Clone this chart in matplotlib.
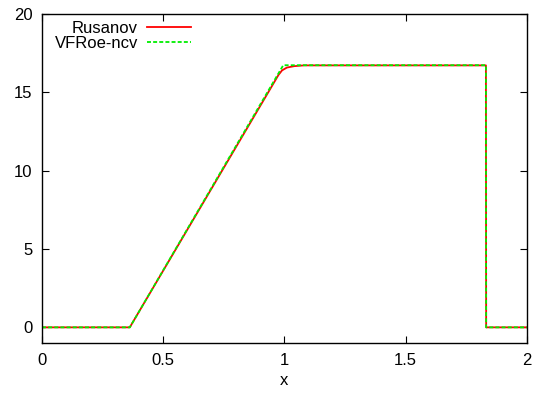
import numpy as np
import matplotlib
matplotlib.use("Agg")
import matplotlib.pyplot as plt

plt.rcParams['font.family'] = ['Liberation Sans', 'DejaVu Sans']
plt.rcParams['font.size'] = 12

# Values
rusanov_x = [0.0, 0.362, 0.975, 0.99, 1.01, 1.04, 1.08, 1.831, 1.832, 2.0]
rusanov_y = [0.0, 0.0, 16.1, 16.4, 16.58, 16.67, 16.72, 16.72, 0.0, 0.0]

vfroe_x = [0.0, 0.362, 0.995, 1.831, 1.832, 2.0]
vfroe_y = [0.0, 0.0, 16.73, 16.73, 0.0, 0.0]

x_ticks = [0, 0.5, 1, 1.5, 2]
x_tick_labels = ['0', '0.5', '1', '1.5', '2']
y_ticks = [0, 5, 10, 15, 20]

fig = plt.figure(figsize=(5.36, 3.95), dpi=100)
ax = fig.add_axes([0.0784, 0.1316, 0.9046, 0.833])

ax.plot(rusanov_x, rusanov_y, color='#ff0000', lw=1.3, label='Rusanov')
ax.plot(vfroe_x, vfroe_y, color='#00ee00', lw=1.3, ls=(0, (2.2, 1.2)), label='VFRoe-ncv')

ax.set_xlim(0, 2)
ax.set_ylim(-1, 20)
ax.set_xticks(x_ticks)
ax.set_xticklabels(x_tick_labels)
ax.set_yticks(y_ticks)
ax.set_xlabel('x', labelpad=4)

ax.tick_params(direction='in', length=5, width=0.8, top=True, right=True, pad=7)
for s in ax.spines.values():
    s.set_linewidth(1.0)

leg = ax.legend(loc='upper left', frameon=False, markerfirst=False,
                handlelength=2.6, handletextpad=0.55, labelspacing=0.0,
                borderpad=0.0, borderaxespad=0.0, bbox_to_anchor=(0.026, 0.978))
# right align labels like gnuplot does
for col in leg._legend_handle_box.get_children():
    col.align = 'right'

fig.savefig('out.png', dpi=100)
